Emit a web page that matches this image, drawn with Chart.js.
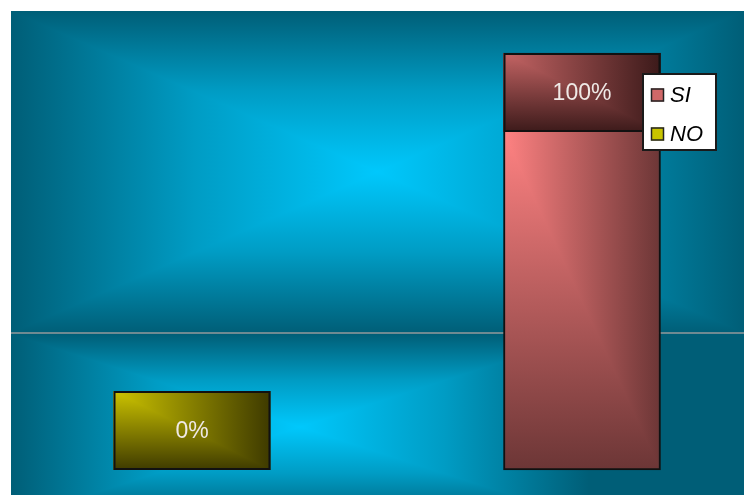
<!DOCTYPE html>
<html>
<head>
<meta charset="utf-8">
<script src="https://cdn.jsdelivr.net/npm/chart.js@4.4.1/dist/chart.umd.min.js"></script>
<style>
  html, body { margin: 0; padding: 0; background: #fff; }
  canvas { display: block; }
</style>
</head>
<body>
<canvas id="chart" width="744" height="495"></canvas>
<script>
// answers per option, in percent
const categories = ['NO', 'SI'];
const percentages = [0, 100];
const legendOrder = ['SI', 'NO'];
const valueMin = 0;
const valueMax = 100;

// light corner -> dark corner for each part of a bar
const barShades = {
  NO: { label: ['#cdc400', '#3e3a00'], body: ['#cdc400', '#3e3a00'], swatch: '#c8c400' },
  SI: { label: ['#c46464', '#3c1a1a'], body: ['#ff8282', '#6c3636'], swatch: '#d06868' }
};
const BAR_W = 157;
const LABEL_BOX_H = 79;
// centre, half way, edge of the sky backdrop
const SKY = ['#00c8fc', '#009cc4', '#005e77'];

// gradient that fades from the top-left corner outwards (max-distance, like old office charts)
function cornerGradient(g, x, y, w, h, c0, c1) {
  g.save();
  let lg = g.createLinearGradient(x, 0, x + w, 0);
  lg.addColorStop(0, c0);
  lg.addColorStop(1, c1);
  g.fillStyle = lg;
  g.fillRect(x, y, w, h);
  g.beginPath();
  g.moveTo(x, y);
  g.lineTo(x, y + h);
  g.lineTo(x + w, y + h);
  g.closePath();
  lg = g.createLinearGradient(0, y, 0, y + h);
  lg.addColorStop(0, c0);
  lg.addColorStop(1, c1);
  g.fillStyle = lg;
  g.fill();
  g.restore();
}

function skyStops(lg, reverse) {
  const pos = reverse ? [1, 0.5, 0] : [0, 0.5, 1];
  SKY.forEach((c, i) => lg.addColorStop(pos[i], c));
}

// rectangular gradient from the centre to the edges
function centerGradient(g, x, y, w, h) {
  const cx = x + w / 2, cy = y + h / 2;
  g.save();
  let lg = g.createLinearGradient(x, 0, x + w, 0);
  lg.addColorStop(0, SKY[2]);
  lg.addColorStop(0.25, SKY[1]);
  lg.addColorStop(0.5, SKY[0]);
  lg.addColorStop(0.75, SKY[1]);
  lg.addColorStop(1, SKY[2]);
  g.fillStyle = lg;
  g.fillRect(x, y, w, h);

  g.beginPath();
  g.moveTo(x, y); g.lineTo(x + w, y); g.lineTo(cx, cy); g.closePath();
  lg = g.createLinearGradient(0, cy, 0, y);
  skyStops(lg, false);
  g.fillStyle = lg;
  g.fill();

  g.beginPath();
  g.moveTo(x, y + h); g.lineTo(x + w, y + h); g.lineTo(cx, cy); g.closePath();
  lg = g.createLinearGradient(0, cy, 0, y + h);
  skyStops(lg, false);
  g.fillStyle = lg;
  g.fill();
  g.restore();
}

function labelBoxTop(chart, value) {
  const base = chart.scales.y.getPixelForValue(valueMin);
  return Math.min(chart.scales.y.getPixelForValue(value), base - LABEL_BOX_H);
}

// bar body fill, built as a pattern so the corner gradient follows each bar
function bodyFill(ctx) {
  const chart = ctx.chart;
  if (ctx.type !== 'data' || !chart.chartArea) return '#a05050';
  const shade = barShades[categories[ctx.dataIndex]].body;
  const x = chart.scales.x.getPixelForValue(ctx.dataIndex) - BAR_W / 2;
  const base = chart.scales.y.getPixelForValue(valueMin);
  const top = labelBoxTop(chart, ctx.raw) + LABEL_BOX_H;
  if (base - top < 1) return shade[0];
  const off = document.createElement('canvas');
  off.width = chart.width;
  off.height = chart.height;
  cornerGradient(off.getContext('2d'), x, top, BAR_W, base - top, shade[0], shade[1]);
  return chart.ctx.createPattern(off, 'no-repeat');
}

const backdrop = {
  id: 'backdrop',
  beforeDraw(chart) {
    const g = chart.ctx;
    g.save();
    g.fillStyle = '#ffffff';
    g.fillRect(0, 0, chart.width, chart.height);

    g.save();
    g.beginPath();
    g.rect(11, 11, 733, 322);
    g.clip();
    centerGradient(g, 11, 11, 733, 322);
    g.restore();

    g.save();
    g.beginPath();
    g.rect(11, 333, 733, 162);
    g.clip();
    g.fillStyle = SKY[2];
    g.fillRect(11, 333, 733, 162);
    centerGradient(g, 11, 334, 578, 186);
    g.restore();

    g.fillStyle = '#6f8a92';
    g.fillRect(11, 332, 733, 2);
    g.restore();
  }
};

const valueBoxes = {
  id: 'valueBoxes',
  afterDatasetsDraw(chart) {
    const g = chart.ctx;
    const meta = chart.getDatasetMeta(0);
    meta.data.forEach((bar, i) => {
      const { x } = bar.getProps(['x'], true);
      const top = labelBoxTop(chart, percentages[i]);
      const left = x - BAR_W / 2;
      const shade = barShades[categories[i]].label;
      cornerGradient(g, left, top, BAR_W, LABEL_BOX_H, shade[0], shade[1]);
      g.save();
      g.lineWidth = 2;
      g.strokeStyle = '#111111';
      g.strokeRect(left + 1, top + 1, BAR_W - 2, LABEL_BOX_H - 2);
      g.fillStyle = '#efe9e6';
      g.font = '23px "Liberation Sans", Arial, sans-serif';
      g.textAlign = 'center';
      g.textBaseline = 'middle';
      g.fillText(percentages[i] + '%', x, top + LABEL_BOX_H / 2 + 1);
      g.restore();
    });
  }
};

const sideLegend = {
  id: 'sideLegend',
  afterDraw(chart) {
    const g = chart.ctx;
    g.save();
    g.fillStyle = '#ffffff';
    g.fillRect(642, 73, 75, 78);
    g.lineWidth = 2;
    g.strokeStyle = '#1a1a1a';
    g.strokeRect(643, 74, 73, 76);
    g.font = 'italic 22px "Liberation Sans", Arial, sans-serif';
    g.textBaseline = 'middle';
    g.textAlign = 'left';
    legendOrder.forEach((name, i) => {
      const cy = 95 + i * 39;
      g.fillStyle = barShades[name].swatch;
      g.fillRect(651, cy - 6.5, 13, 13);
      g.lineWidth = 1.5;
      g.strokeStyle = '#222222';
      g.strokeRect(651.5, cy - 6, 12, 12);
      g.fillStyle = '#000000';
      g.fillText(name, 670, cy + 1);
    });
    g.restore();
  }
};

new Chart(document.getElementById('chart').getContext('2d'), {
  type: 'bar',
  data: {
    labels: categories,
    datasets: [{
      data: percentages,
      backgroundColor: bodyFill,
      borderColor: '#111111',
      borderWidth: 2,
      borderSkipped: false,
      barThickness: BAR_W,
      clip: false
    }]
  },
  options: {
    responsive: false,
    animation: false,
    layout: { padding: { left: 192, right: 162, top: 53, bottom: 25 } },
    scales: {
      x: { type: 'category', offset: false, display: false },
      y: { min: valueMin, max: valueMax, display: false }
    },
    plugins: {
      legend: { display: false },
      tooltip: { enabled: false }
    }
  },
  plugins: [backdrop, valueBoxes, sideLegend]
});
</script>
</body>
</html>
